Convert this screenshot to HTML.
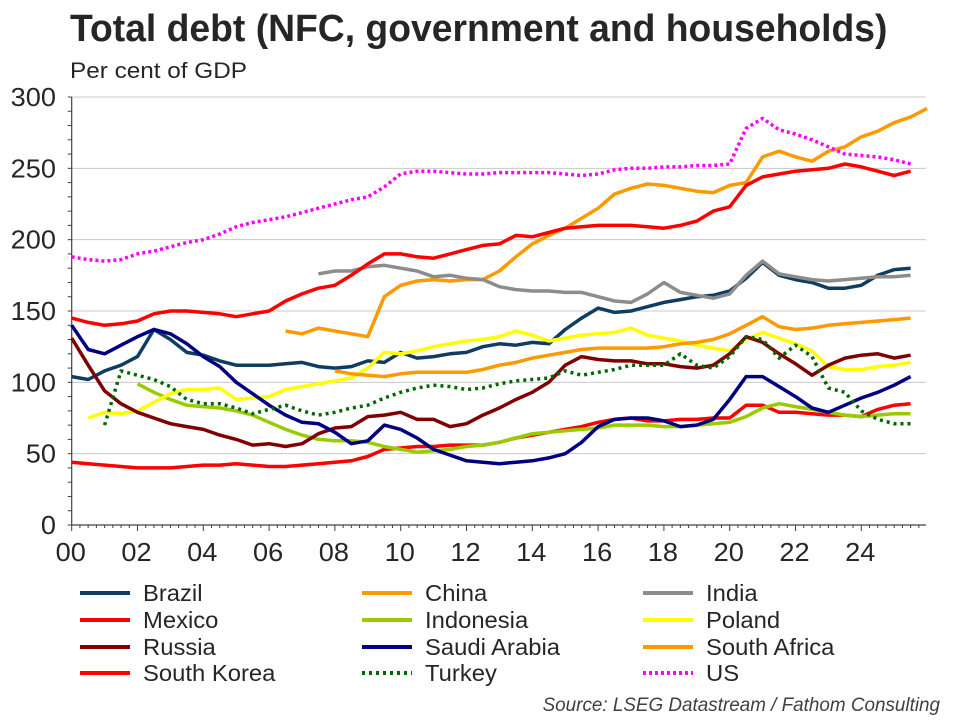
<!DOCTYPE html>
<html><head><meta charset="utf-8"><style>
body{margin:0;background:#fff;}
svg text{font-family:"Liberation Sans",Arial,sans-serif;}
</style></head><body>
<svg id="chart" width="960" height="720" xmlns="http://www.w3.org/2000/svg">
<text data-sx="0.981" x="70" y="41" font-size="38" font-weight="bold" fill="#262626">Total debt (NFC, government and households)</text>
<text data-sx="1.105" x="70" y="78" font-size="22" fill="#262626">Per cent of GDP</text>
<g id="grid"></g><g id="axes"></g><g id="series"></g><g id="legend"></g>
<text data-sx="0.993" x="940" y="711" font-size="19" font-style="italic" fill="#404040" text-anchor="end">Source: LSEG Datastream / Fathom Consulting</text>
</svg>
<script>
const yTicks=[0,50,100,150,200,250,300];
const xTickYears=[2000,2002,2004,2006,2008,2010,2012,2014,2016,2018,2020,2022,2024];
const xTickLabels=["00","02","04","06","08","10","12","14","16","18","20","22","24"];
const seriesNames=["Brazil","China","India","Mexico","Indonesia","Poland","Russia","Saudi Arabia","South Africa","South Korea","Turkey","US"];
const seriesStarts=[2000,2006.5,2007.5,2000,2002,2000.5,2000,2000,2008,2000,2001,2000];
const brazil=[104,102,108,112,118,137,130,121,119,115,112,112,112,113,114,111,110,111,115,114,121,117,118,120,121,125,127,126,128,127,137,145,152,149,150,153,156,158,160,161,164,173,184,175,172,170,166,166,168,175,179,180];
const china=[136,134,138,136,134,132,160,168,171,172,171,172,172,178,188,197,203,208,215,222,232,236,239,238,236,234,233,238,240,258,262,258,255,262,265,272,276,282,286,292];
const india=[176,178,178,181,182,180,178,174,175,173,172,167,165,164,164,163,163,160,157,156,162,170,163,161,159,162,175,185,176,174,172,171,172,173,174,174,175];
const mexico=[44,43,42,41,40,40,40,41,42,42,43,42,41,41,42,43,44,45,48,53,54,55,55,56,56,56,58,61,63,65,67,69,72,74,75,73,73,74,74,75,75,84,84,79,79,78,77,77,76,81,84,85];
const indonesia=[99,93,88,84,83,82,80,77,72,67,63,60,59,59,58,55,53,51,52,53,55,56,58,61,64,65,66,67,68,70,70,70,69,69,70,71,72,76,82,85,83,81,79,77,76,77,78,78];
const poland=[75,79,78,80,86,92,95,95,96,88,89,90,95,97,99,101,103,110,121,120,122,125,127,129,130,132,136,133,129,131,133,134,135,138,133,131,129,126,124,122,130,135,131,127,122,111,109,109,111,112,114];
const russia=[131,112,94,85,79,75,71,69,67,63,60,56,57,55,57,64,68,69,76,77,79,74,74,69,71,77,82,88,93,100,112,118,116,115,115,113,113,111,110,112,120,132,128,120,113,105,112,117,119,120,117,119];
const saudi=[140,123,120,126,132,137,134,127,118,111,100,92,84,77,72,71,65,57,59,70,67,61,53,49,45,44,43,44,45,47,50,58,69,74,75,75,73,69,70,74,88,104,104,97,90,82,79,84,89,93,98,104];
const southAfrica=[108,106,105,104,106,107,107,107,107,109,112,114,117,119,121,123,124,124,124,124,125,127,128,130,134,140,146,139,137,138,140,141,142,143,144,145];
const southKorea=[145,142,140,141,143,148,150,150,149,148,146,148,150,157,162,166,168,175,183,190,190,188,187,190,193,196,197,203,202,205,208,209,210,210,210,209,208,210,213,220,223,238,244,246,248,249,250,253,251,248,245,248];
const turkey=[70,108,105,102,97,88,85,85,82,78,81,84,80,77,79,82,84,89,93,96,98,97,95,96,99,101,102,103,108,105,107,109,112,112,112,120,112,110,118,132,130,117,126,118,96,93,80,74,71,71];
const us=[188,186,185,186,190,192,195,198,200,204,209,212,214,216,219,222,225,228,230,237,246,248,248,247,246,246,247,247,247,247,246,245,246,249,250,250,251,251,252,252,253,278,285,277,274,270,265,260,259,258,256,253];
const seriesValues=[brazil,china,india,mexico,indonesia,poland,russia,saudi,southAfrica,southKorea,turkey,us];
const seriesColors=["#0f3d62","#ff9900","#8c8c8c","#ff0000","#99cc00","#ffff00","#800000","#000080","#ff9900","#ff0000","#006600","#ff00ff"];
const seriesDash=["","","","","","","","","","","3,4","3,3"];
const step=0.5;
const NS="http://www.w3.org/2000/svg";
const X0=71.7,PXY=32.9,Y0=525,PXV=1.4267,XEND=926;
function xs(yr){return X0+(yr-2000)*PXY;}
function ys(v){return Y0-v*PXV;}
function mk(tag,attrs,parent){const e=document.createElementNS(NS,tag);for(const k in attrs)e.setAttribute(k,attrs[k]);parent.appendChild(e);return e;}
const grid=document.getElementById('grid'),axes=document.getElementById('axes'),ser=document.getElementById('series'),leg=document.getElementById('legend');
yTicks.forEach(v=>{
  if(v>0){const l=mk('line',{x1:X0,x2:XEND,y1:ys(v),y2:ys(v),stroke:'#c8c8c8','stroke-width':1},grid);
  
  }
  const t=mk('text',{x:56,y:ys(v)+9,'font-size':26,'text-anchor':'end',fill:'#262626','data-sx':1.044},axes);t.textContent=v;
  
  
});
for(let v=0;v<=300;v+=10){mk('line',{x1:X0-4,x2:X0,y1:ys(v),y2:ys(v),stroke:'#404040','stroke-width':1},axes);}
const ya=mk('line',{x1:X0,x2:X0,y1:ys(0),y2:ys(300),stroke:'#404040','stroke-width':1.2},axes);


const xa=mk('line',{x1:X0,x2:XEND,y1:Y0,y2:Y0,stroke:'#404040','stroke-width':1.2},axes);


for(let q=2000;q<=2025.76;q+=0.25){const major=Math.abs(q/2-Math.round(q/2))<1e-6;mk('line',{x1:xs(q),x2:xs(q),y1:Y0,y2:Y0+(major?6:3),stroke:'#404040','stroke-width':1},axes);}
xTickYears.forEach((yr,i)=>{const t=mk('text',{x:xs(yr)-1,y:Y0+36,'font-size':26,'text-anchor':'middle',fill:'#262626','data-sx':1.044},axes);t.textContent=xTickLabels[i];
  
  });
seriesValues.forEach((vals,i)=>{
  const pts=vals.map((v,j)=>xs(seriesStarts[i]+j*step).toFixed(1)+','+ys(v).toFixed(1)).join(' ');
  const attrs={points:pts,fill:'none',stroke:seriesColors[i],'stroke-width':3.5,'stroke-linejoin':'round'};
  if(seriesDash[i])attrs['stroke-dasharray']=seriesDash[i];
  const p=mk('polyline',attrs,ser);
  
  
});
const colX=[80,362,643],rowY=[593,620,647,673];
seriesNames.forEach((n,i)=>{
  const c=i%3,r=Math.floor(i/3);
  const g=mk('g',{},leg);
  
  
  const a={x1:colX[c],x2:colX[c]+50,y1:rowY[r],y2:rowY[r],stroke:seriesColors[i],'stroke-width':4};
  if(seriesDash[i])a['stroke-dasharray']=seriesDash[i];
  mk('line',a,g);
  const t=mk('text',{x:colX[c]+63,y:rowY[r]+8,'font-size':23,fill:'#262626','data-sx':1.035},g);t.textContent=n;
});
document.querySelectorAll('text[data-sx]').forEach(t=>{
  const w=t.getComputedTextLength();
  t.setAttribute('textLength',(w*parseFloat(t.getAttribute('data-sx'))).toFixed(1));
  t.setAttribute('lengthAdjust','spacingAndGlyphs');
});
</script>
</body></html>
